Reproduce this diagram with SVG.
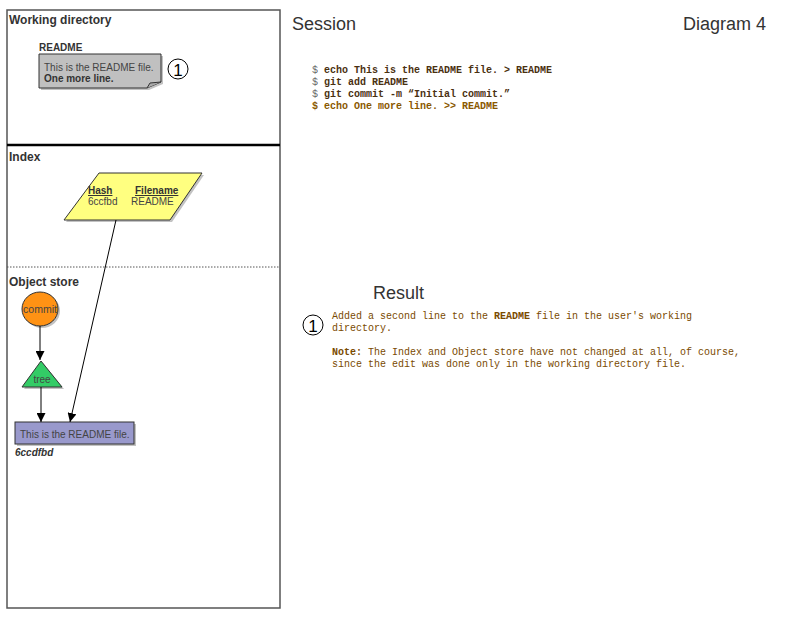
<svg xmlns="http://www.w3.org/2000/svg" width="800" height="618" viewBox="0 0 800 618">
<style>
.lbl{font-family:"Liberation Sans",Arial,sans-serif;font-weight:bold;font-size:12px;fill:#333}
.sm{font-family:"Liberation Sans",Arial,sans-serif;font-size:10px;fill:#444}
.smb{font-family:"Liberation Sans",Arial,sans-serif;font-size:10px;font-weight:bold;fill:#333}
.big{font-family:"Liberation Sans",Arial,sans-serif;font-size:18px;fill:#333}
.mono{font-family:"Liberation Mono","Courier New",monospace;font-size:10px}
.cmd{font-weight:bold;fill:#4a3010}
.res{fill:#7a4a00}
.edge{stroke:#000;stroke-width:1;fill:none;marker-end:url(#ah)}
.shadow{fill:#999;opacity:0.6}
</style>
<defs>
<marker id="ah" viewBox="0 0 10 10" refX="10" refY="5" markerWidth="9" markerHeight="9" markerUnits="userSpaceOnUse" orient="auto">
<path d="M0,0 L10,5 L0,10 z" fill="#000"/>
</marker>
</defs>
<rect width="800" height="618" fill="#fff"/>
<g id="panel">
<rect x="7" y="10" width="273" height="598" fill="#fff" stroke="#555" stroke-width="1.5"/>
<line x1="7" y1="145" x2="280" y2="145" stroke="#000" stroke-width="2.5"/>
<line x1="7" y1="267" x2="280" y2="267" stroke="#555" stroke-width="1" stroke-dasharray="1.5,1.5"/>
<text class="lbl" x="9" y="24">Working directory</text>
<text class="lbl" x="9" y="161">Index</text>
<text class="lbl" x="9" y="286">Object store</text>
</g>
<g id="readme-file">
<text class="smb" x="39" y="51">README</text>
<path d="M41,56 H163 V84 L149,90 H41 Z" class="shadow"/>
<path d="M39,54 H161 V82 L147,88 H39 Z" fill="#c0c0c0" stroke="#333" stroke-width="1"/>
<path d="M147,88 L150,83 L161,82" fill="#aaa" stroke="#333" stroke-width="1"/>
<text class="sm" x="44" y="71">This is the README file.</text>
<text class="smb" x="44" y="82">One more line.</text>
</g>
<g id="marker1-left">
<circle cx="178" cy="69" r="10" fill="#fff" stroke="#000" stroke-width="1"/>
<text x="178" y="75.5" text-anchor="middle" style="font-family:'Liberation Sans',Arial,sans-serif;font-size:17px;fill:#000">1</text>
</g>
<g id="index-entry">
<polygon points="101,175 204,175 172,222 66,222" class="shadow"/>
<polygon points="99,173 202,173 170,220 64,220" fill="#ffff80" stroke="#333" stroke-width="1"/>
<text class="smb" x="88" y="194" text-decoration="underline">Hash</text>
<text class="smb" x="135" y="194" text-decoration="underline">Filename</text>
<text class="sm" x="88" y="205">6ccfbd</text>
<text class="sm" x="131" y="205">README</text>
</g>
<g id="commit">
<ellipse cx="42" cy="311" rx="18" ry="17" class="shadow"/>
<ellipse cx="40" cy="309" rx="18" ry="17" fill="#ff9214" stroke="#333" stroke-width="1"/>
<text class="sm" x="40" y="312.5" text-anchor="middle" style="font-size:10.5px">commit</text>
</g>
<g id="tree">
<polygon points="43,363 64,389 24,389" class="shadow"/>
<polygon points="41,361 62,387 22,387" fill="#33cc66" stroke="#333" stroke-width="1"/>
<text class="sm" x="42" y="383" text-anchor="middle">tree</text>
</g>
<g id="blob">
<rect x="17" y="424" width="119" height="22" class="shadow"/>
<rect x="15" y="422" width="119" height="22" fill="#9999cc" stroke="#333" stroke-width="1"/>
<text class="sm" x="20" y="438">This is the README file.</text>
<text x="15" y="456" style="font-family:'Liberation Sans',Arial,sans-serif;font-size:10px;font-weight:bold;font-style:italic;fill:#333">6ccdfbd</text>
</g>
<g id="connectors">
<line class="edge" x1="40" y1="326" x2="40" y2="360" stroke="#555"/>
<line class="edge" x1="41" y1="387" x2="41" y2="422"/>
<line class="edge" x1="116" y1="220" x2="70" y2="422"/>
</g>
<g id="session">
<text class="big" x="292" y="30">Session</text>
<text class="big" x="683" y="30">Diagram 4</text>
<text class="mono cmd" x="312" y="73"><tspan fill="#666" font-weight="normal">$</tspan> echo This is the README file. &gt; README</text>
<text class="mono cmd" x="312" y="85"><tspan fill="#666" font-weight="normal">$</tspan> git add README</text>
<text class="mono cmd" x="312" y="97"><tspan fill="#666" font-weight="normal">$</tspan> git commit -m “Initial commit.”</text>
<text class="mono cmd" x="312" y="109" style="fill:#8a5800">$ echo One more line. &gt;&gt; README</text>
</g>
<g id="result">
<text class="big" x="373" y="299">Result</text>
<circle cx="313" cy="325" r="10" fill="#fff" stroke="#000" stroke-width="1"/>
<text x="313" y="331.5" text-anchor="middle" style="font-family:'Liberation Sans',Arial,sans-serif;font-size:17px;fill:#000">1</text>
<text class="mono res" x="332" y="319">Added a second line to the <tspan font-weight="bold">README</tspan> file in the user's working</text>
<text class="mono res" x="332" y="331">directory.</text>
<text class="mono res" x="332" y="355"><tspan font-weight="bold">Note:</tspan> The Index and Object store have not changed at all, of course,</text>
<text class="mono res" x="332" y="367">since the edit was done only in the working directory file.</text>
</g>
</svg>
